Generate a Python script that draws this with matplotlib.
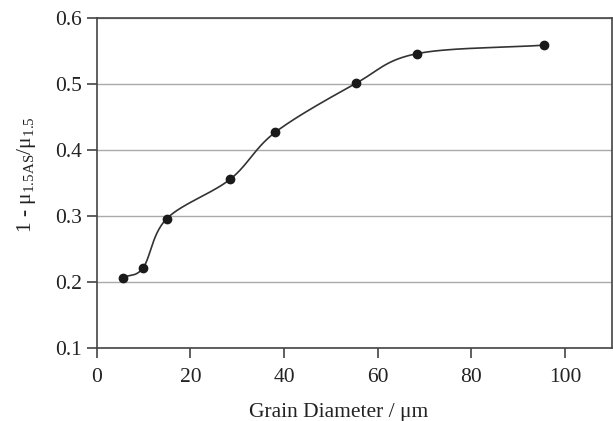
import numpy as np
import matplotlib
matplotlib.use("Agg")
from matplotlib import pyplot as plt

# data
grain_diameter = [5.6, 9.9, 14.9, 28.5, 38.1, 55.3, 68.3, 95.5]
friction_ratio = [0.207, 0.222, 0.296, 0.356, 0.427, 0.501, 0.546, 0.559]

x_ticks = [0, 20, 40, 60, 80, 100]
y_ticks = [0.1, 0.2, 0.3, 0.4, 0.5, 0.6]

plt.rcParams['font.family'] = 'Liberation Serif'
plt.rcParams['mathtext.fontset'] = 'custom'
plt.rcParams['mathtext.rm'] = 'Liberation Serif'
plt.rcParams['mathtext.it'] = 'Liberation Serif:italic'


def catmull_rom(x, y, n=30):
    # smooth connecting curve through the measured points
    x = np.asarray(x, float)
    y = np.asarray(y, float)
    px = np.concatenate([[2 * x[0] - x[1]], x, [2 * x[-1] - x[-2]]])
    py = np.concatenate([[2 * y[0] - y[1]], y, [2 * y[-1] - y[-2]]])
    xs, ys = [], []
    t = np.linspace(0, 1, n)
    for i in range(1, len(px) - 2):
        for p, out in ((px, xs), (py, ys)):
            p0, p1, p2, p3 = p[i - 1], p[i], p[i + 1], p[i + 2]
            seg = 0.5 * ((2 * p1) + (-p0 + p2) * t
                         + (2 * p0 - 5 * p1 + 4 * p2 - p3) * t ** 2
                         + (-p0 + 3 * p1 - 3 * p2 + p3) * t ** 3)
            out.extend(seg)
    return np.array(xs), np.array(ys)


fig = plt.figure(figsize=(6.13, 4.21), dpi=100)
ax = fig.add_axes([0.158, 0.173, 0.84, 0.784])

sx, sy = catmull_rom(grain_diameter, friction_ratio)
ax.plot(sx, sy, color='#333333', lw=1.2, zorder=3)
ax.plot(grain_diameter, friction_ratio, 'o', color='#1a1a1a', ms=6, zorder=4)

ax.set_xlim(0, 110)
ax.set_ylim(0.1, 0.6)
ax.set_xticks(x_ticks)
ax.set_yticks(y_ticks)
ax.set_yticklabels([f"{v:.1f}" for v in y_ticks])
ax.yaxis.grid(True, color='#aaaaaa', lw=1)
ax.set_axisbelow(True)

for s in ax.spines.values():
    s.set_color('#444444')
    s.set_linewidth(1.2)

ax.tick_params(axis='both', labelsize=15.5, colors='#222222', length=7,
               width=1.2, direction='out', pad=4)
ax.tick_params(axis='x', color='#444444', pad=7)
ax.tick_params(axis='y', color='#444444')

ax.set_xlabel(u'Grain Diameter / \u03bcm', fontsize=15.5, color='#222222', labelpad=12)
ax.set_ylabel(u'1 - \u03bc$_{\\rm 1.5AS}$/\u03bc$_{\\rm 1.5}$', fontsize=15.5,
              color='#222222', labelpad=12)
# labels sit a little off-centre in the original
ax.xaxis.label.set_x(0.47)
ax.yaxis.label.set_y(0.527)

fig.savefig('out.png', dpi=100)
